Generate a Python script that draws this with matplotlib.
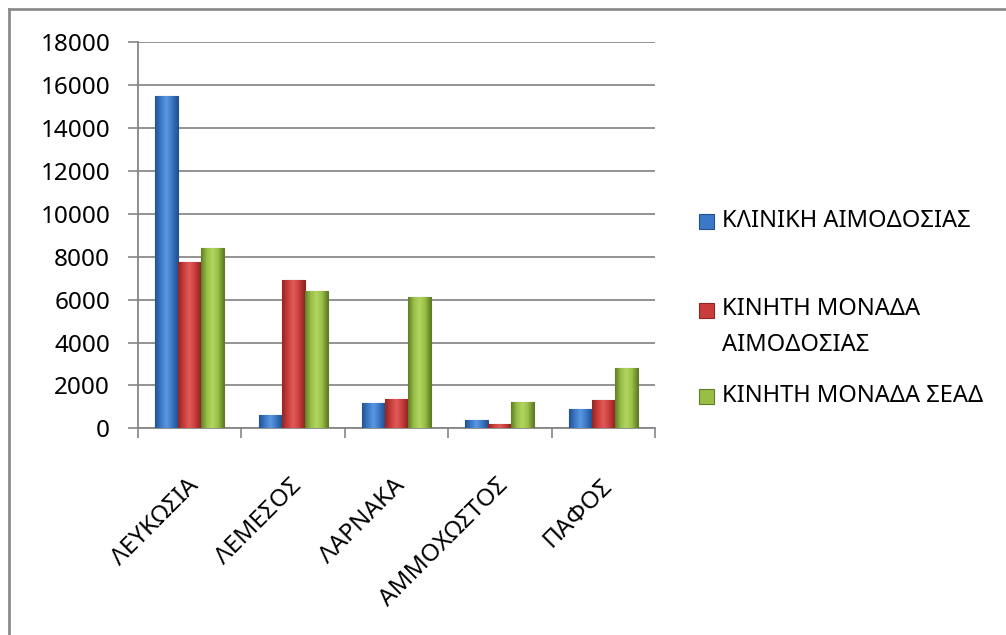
import matplotlib
matplotlib.use("Agg")
import matplotlib.pyplot as plt
import numpy as np
from matplotlib.colors import LinearSegmentedColormap
from matplotlib.patches import Rectangle
from matplotlib.lines import Line2D
from matplotlib.transforms import ScaledTranslation

plt.rcParams['font.family'] = ['Noto Sans', 'DejaVu Sans']

categories = ['ΛΕΥΚΩΣΙΑ', 'ΛΕΜΕΣΟΣ', 'ΛΑΡΝΑΚΑ', 'ΑΜΜΟΧΩΣΤΟΣ', 'ΠΑΦΟΣ']
series_names = ['ΚΛΙΝΙΚΗ ΑΙΜΟΔΟΣΙΑΣ', 'ΚΙΝΗΤΗ ΜΟΝΑΔΑ\nΑΙΜΟΔΟΣΙΑΣ', 'ΚΙΝΗΤΗ ΜΟΝΑΔΑ ΣΕΑΔ']
klinikh = [15500, 600, 1170, 390, 910]
kinhth_aim = [7750, 6900, 1380, 200, 1300]
kinhth_sead = [8400, 6400, 6100, 1240, 2830]
series = [klinikh, kinhth_aim, kinhth_sead]
yticks = list(range(0, 18001, 2000))

base_colors = ['#3b78c6', '#c93d3b', '#98bf45']
dark_colors = ['#24528f', '#8f2624', '#5f7d26']
light_colors = ['#5c98e0', '#e05c58', '#b3d661']

W, H = 1006, 635
fig = plt.figure(figsize=(W / 100, H / 100), dpi=100)
ax = fig.add_axes([138 / W, (H - 428.3) / H, (655 - 138) / W, (428.3 - 42.3) / H])

x = np.arange(len(categories))
bw = 0.222
grad = np.linspace(0, 1, 64).reshape(1, -1)
for i, (vals, bc, dc, lc) in enumerate(zip(series, base_colors, dark_colors, light_colors)):
    bars = ax.bar(x + (i - 1) * bw, vals, bw, color=bc, edgecolor=dc, linewidth=0.8, zorder=3)
    cmap = LinearSegmentedColormap.from_list('g%d' % i, [dc, bc, lc, bc, dc])
    for p in bars:
        px, pw, ph = p.get_x(), p.get_width(), p.get_height()
        im = ax.imshow(grad, extent=[px, px + pw, 0, ph], aspect='auto', cmap=cmap,
                       zorder=3.5, interpolation='bilinear')
        im.set_clip_path(p)

ax.set_xlim(-0.5, len(categories) - 0.5)
ax.set_ylim(0, 18000)
ax.set_yticks(yticks)
ax.set_yticklabels([str(v) for v in yticks])
ax.set_xticks(np.arange(-0.5, len(categories), 1.0))
ax.set_xticklabels([])
ax.set_xticks(x, minor=True)
ax.set_xticklabels(categories, minor=True, rotation=45, ha='right', va='center',
                   rotation_mode='anchor')
ax.tick_params(axis='x', which='minor', length=0, pad=39, labelsize=17.5)
ax.tick_params(axis='x', which='major', length=7, width=1.2, color='#868686')
ax.tick_params(axis='y', length=7, width=1.2, color='#868686', pad=13, labelsize=17.5)
shift = ScaledTranslation(5 / 100, 0, fig.dpi_scale_trans)
for lab in ax.get_xticklabels(minor=True):
    lab.set_transform(lab.get_transform() + shift)
ax.grid(axis='y', color='#8a8a8a', linewidth=1.3, zorder=0)
ax.set_axisbelow(True)
for s in ['top', 'right']:
    ax.spines[s].set_visible(False)
for s in ['left', 'bottom']:
    ax.spines[s].set_color('#868686')
    ax.spines[s].set_linewidth(1.3)

# legend (manual, figure pixel coords)
rows_y = [221, 310, 396]
for name, bc, dc, ry in zip(series_names, base_colors, dark_colors, rows_y):
    fig.patches.append(Rectangle((699 / W, (H - ry - 7.5) / H), 15 / W, 15 / H,
                                 transform=fig.transFigure, facecolor=bc, edgecolor=dc,
                                 linewidth=0.8))
    multi = '\n' in name
    fig.text(722 / W, (H - ry + (13 if multi else 0)) / H, name, fontsize=17,
             va='top' if multi else 'center', ha='left', linespacing=1.65)

# outer border
fig.add_artist(Line2D([9 / W, 9 / W], [0, (H - 9) / H], transform=fig.transFigure,
                      color='#8c8c8c', linewidth=2))
fig.add_artist(Line2D([9 / W, 1], [(H - 9) / H, (H - 9) / H], transform=fig.transFigure,
                      color='#8c8c8c', linewidth=2))

fig.savefig('out.png', dpi=100)
